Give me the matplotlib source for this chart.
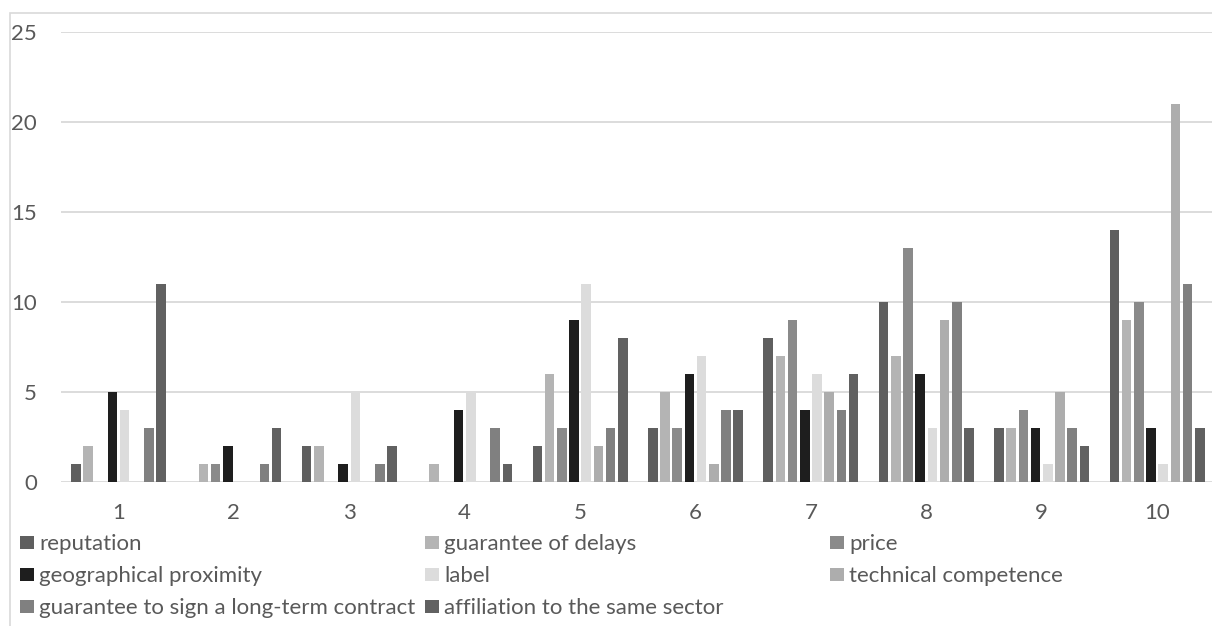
import matplotlib
matplotlib.use("Agg")
import matplotlib.pyplot as plt
from matplotlib.patches import Rectangle
import numpy as np

plt.rcParams['font.family'] = ['Lato', 'DejaVu Sans']

# ---- data -------------------------------------------------------------
categories = ["1", "2", "3", "4", "5", "6", "7", "8", "9", "10"]
series_names = [
    "reputation",
    "guarantee of delays",
    "price",
    "geographical proximity",
    "label",
    "technical competence",
    "guarantee to sign a long-term contract",
    "affiliation to the same sector",
]
reputation = [1, 0, 2, 0, 2, 3, 8, 10, 3, 14]
guarantee_of_delays = [2, 1, 2, 1, 6, 5, 7, 7, 3, 9]
price = [0, 1, 0, 0, 3, 3, 9, 13, 4, 10]
geographical_proximity = [5, 2, 1, 4, 9, 6, 4, 6, 3, 3]
label = [4, 0, 5, 5, 11, 7, 6, 3, 1, 1]
technical_competence = [0, 0, 0, 0, 2, 1, 5, 9, 5, 21]
long_term_contract = [3, 1, 1, 3, 3, 4, 4, 10, 3, 11]
same_sector = [11, 3, 2, 1, 8, 4, 6, 3, 2, 3]
series_values = [reputation, guarantee_of_delays, price, geographical_proximity,
                 label, technical_competence, long_term_contract, same_sector]
y_ticks = [0, 5, 10, 15, 20, 25]

colors = ["#5f5f5f", "#b4b4b4", "#8a8a8a", "#1e1e1e",
          "#dcdcdc", "#adadad", "#808080", "#616161"]
text_color = "#595959"
grid_color = "#d9d9d9"
font_size = 16

# ---- figure -----------------------------------------------------------
W, H = 1212, 626
fig = plt.figure(figsize=(W / 100, H / 100), dpi=100)

left_px, right_px = 60.75, 1212
base_px, top_px = 482, 32.3
cat_px = 115.4
ax = fig.add_axes([left_px / W, (H - base_px) / H,
                   (right_px - left_px) / W, (base_px - top_px) / H])

x = np.arange(1, len(categories) + 1)
n = len(series_values)
step = 0.1057
bar_w = 0.083
for i, (vals, c) in enumerate(zip(series_values, colors)):
    offs = (i - (n - 1) / 2) * step
    ax.bar(x + offs, vals, width=bar_w, color=c, linewidth=0, zorder=3)

ax.set_xlim(0.5, 0.5 + (right_px - left_px) / cat_px)
ax.set_ylim(0, 25)
ax.set_yticks(y_ticks)
ax.set_yticklabels([str(t) for t in y_ticks])
ax.set_xticks(x)
ax.set_xticklabels(categories)
ax.tick_params(axis='y', length=0, pad=17, labelsize=font_size, labelcolor=text_color)
ax.tick_params(axis='x', length=0, pad=15, labelsize=font_size, labelcolor=text_color)
for lab in ax.get_yticklabels():
    lab.set_horizontalalignment('right')

for t in y_ticks:
    ax.axhline(t, color=grid_color, linewidth=1.3, zorder=1)
for s in ax.spines.values():
    s.set_visible(False)
ax.set_facecolor("none")

# chart frame (its right and bottom edges fall outside the canvas)
fig.patches.append(Rectangle((10 / W, -0.1), 1.2, (H - 13) / H + 0.1,
                             transform=fig.transFigure, fill=False,
                             edgecolor=grid_color, linewidth=1.2))

# ---- legend: three equal-width columns, filled row by row -------------
col_x = [20, 425, 830]
row_y = [541.5, 573.5, 606]
box = 14
for i, (name, c) in enumerate(zip(series_names, colors)):
    r, cidx = divmod(i, 3)
    mx, my = col_x[cidx], row_y[r]
    fig.patches.append(Rectangle((mx / W, (H - my - box / 2) / H), box / W, (box - 1) / H,
                                 transform=fig.transFigure, facecolor=c,
                                 edgecolor='none'))
    fig.text((mx + 19) / W, (H - my) / H, name, fontsize=font_size, color=text_color,
             ha='left', va='center_baseline')

fig.savefig("out.png", dpi=100)
